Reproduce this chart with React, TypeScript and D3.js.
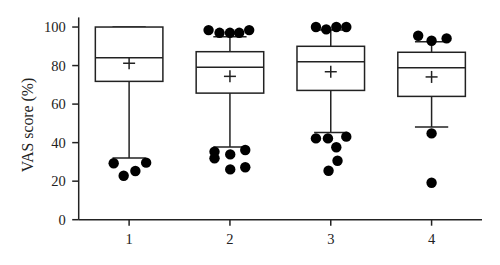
import React from "react";
import * as d3 from "d3";

const categories = ["1", "2", "3", "4"];
const q1 = [71.8, 65.7, 67.1, 64.0];
const medians = [84.1, 79.1, 82.0, 78.9];
const q3 = [100, 87.2, 90.0, 86.9];
const means = [81.2, 74.4, 76.8, 74.1];
const whiskerLow = [32.0, 37.7, 45.3, 48.1];
const whiskerHigh = [100, 95.0, 98.4, 92.4];

// outliers: group index (1-based), value, horizontal jitter (in category units)
const outlierGroup = [1, 1, 1, 1, 2, 2, 2, 2, 2, 2, 2, 2, 2, 2, 2, 3, 3, 3, 3, 3, 3, 3, 3, 3, 3, 4, 4, 4, 4, 4];
const outlierValue = [
  29.3, 22.8, 25.3, 29.6,
  98.4, 97.0, 97.0, 97.0, 98.4, 35.3, 31.9, 33.9, 36.2, 26.1, 27.2,
  100, 98.8, 100, 100, 42.2, 42.2, 43.1, 37.6, 30.6, 25.4,
  95.5, 92.9, 94.1, 44.8, 19.2,
];
const outlierJitter = [
  -0.153, -0.054, 0.062, 0.169,
  -0.212, -0.103, 0, 0.092, 0.191, -0.153, -0.153, 0.003, 0.152, 0.003, 0.152,
  -0.147, -0.045, 0.055, 0.154, -0.147, -0.028, 0.154, 0.055, 0.067, -0.022,
  -0.133, 0, 0.149, 0, 0,
];
const yTicks = [0, 20, 40, 60, 80, 100];

export default function App() {
  const W = 500, H = 265;
  const x = d3.scaleLinear().domain([0.5, 4.5]).range([78.7, 482]);
  const y = d3.scaleLinear().domain([0, 105]).range([219.7, 17.4]);
  const unit = x(1) - x(0);
  const boxW = 0.67 * unit;
  const capW = 0.33 * unit;
  const plus = 6;
  const stroke = "#222";
  const sw = 1.5;
  const font = "'Liberation Serif', 'Times New Roman', serif";

  return (
    <svg width={W} height={H} style={{ position: "absolute", left: 0, top: 0, background: "#fff" }}>
      {/* axes */}
      <line x1={x(0.5)} x2={x(0.5)} y1={y(105)} y2={y(0)} stroke={stroke} strokeWidth={sw} />
      <line x1={x(0.5)} x2={x(4.5)} y1={y(0)} y2={y(0)} stroke={stroke} strokeWidth={sw} />
      {yTicks.map((t) => (
        <g key={t}>
          <line x1={x(0.5) - 6.5} x2={x(0.5)} y1={y(t)} y2={y(t)} stroke={stroke} strokeWidth={sw} />
          <text x={x(0.5) - 13} y={y(t)} dy="0.35em" textAnchor="end" fontFamily={font} fontSize={14.5} fill="#222">
            {t}
          </text>
        </g>
      ))}
      {categories.map((c, i) => (
        <g key={c}>
          <line x1={x(i + 1)} x2={x(i + 1)} y1={y(0)} y2={y(0) + 6} stroke={stroke} strokeWidth={sw} />
          <text x={x(i + 1)} y={y(0) + 24} textAnchor="middle" fontFamily={font} fontSize={14.5} fill="#222">
            {c}
          </text>
        </g>
      ))}
      <text
        transform={`translate(27,125) rotate(-90)`}
        textAnchor="middle"
        dy="0.35em"
        fontFamily={font}
        fontSize={15.8}
        fill="#222"
      >
        VAS score (%)
      </text>

      {/* boxes */}
      {categories.map((c, i) => {
        const cx = x(i + 1);
        return (
          <g key={"b" + c} stroke={stroke} strokeWidth={sw} fill="none">
            <line x1={cx} x2={cx} y1={y(q1[i])} y2={y(whiskerLow[i])} />
            <line x1={cx} x2={cx} y1={y(q3[i])} y2={y(whiskerHigh[i])} />
            <line x1={cx - capW / 2} x2={cx + capW / 2} y1={y(whiskerLow[i])} y2={y(whiskerLow[i])} />
            <line x1={cx - capW / 2} x2={cx + capW / 2} y1={y(whiskerHigh[i])} y2={y(whiskerHigh[i])} />
            <rect x={cx - boxW / 2} y={y(q3[i])} width={boxW} height={y(q1[i]) - y(q3[i])} fill="#fff" />
            <line x1={cx - boxW / 2} x2={cx + boxW / 2} y1={y(medians[i])} y2={y(medians[i])} />
            <line x1={cx - plus} x2={cx + plus} y1={y(means[i])} y2={y(means[i])} />
            <line x1={cx} x2={cx} y1={y(means[i]) - plus} y2={y(means[i]) + plus} />
          </g>
        );
      })}

      {/* outliers */}
      {outlierValue.map((v, k) => (
        <circle key={"o" + k} cx={x(outlierGroup[k] + outlierJitter[k])} cy={y(v)} r={5.2} fill="#000" />
      ))}
    </svg>
  );
}
